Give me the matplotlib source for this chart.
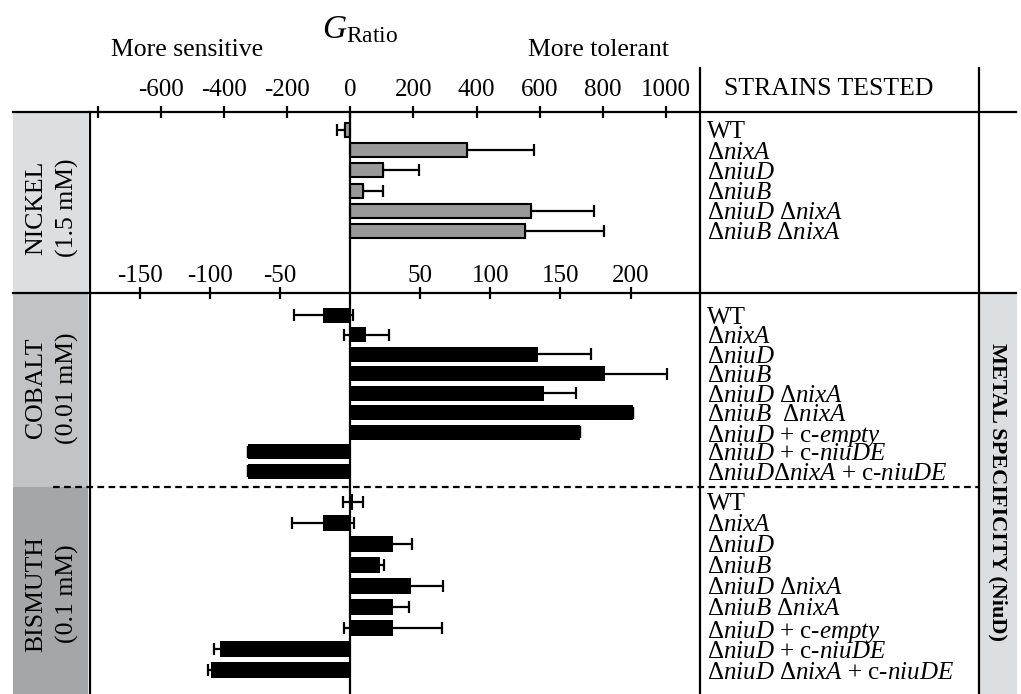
import matplotlib

matplotlib.use('Agg')
import matplotlib.pyplot as plt
from matplotlib.patches import Rectangle

plt.rcParams['font.family'] = ['Liberation Serif', 'DejaVu Serif']
plt.rcParams['mathtext.fontset'] = 'custom'
plt.rcParams['mathtext.rm'] = 'Liberation Serif'
plt.rcParams['mathtext.it'] = 'Liberation Serif:italic'
plt.rcParams['mathtext.bf'] = 'Liberation Serif:bold'

# ニッケル（上段、灰色のバー）
ni_strains = ['WT', r'Δ$\mathit{nixA}$', r'Δ$\mathit{niuD}$', r'Δ$\mathit{niuB}$',
              r'Δ$\mathit{niuD}$ Δ$\mathit{nixA}$', r'Δ$\mathit{niuB}$ Δ$\mathit{nixA}$']
ni_values = [-16, 371, 105, 41, 571, 552]
ni_err = [25, 210, 111, 61, 200, 251]

# コバルト
co_strains = ['WT', r'Δ$\mathit{nixA}$', r'Δ$\mathit{niuD}$', r'Δ$\mathit{niuB}$',
              r'Δ$\mathit{niuD}$ Δ$\mathit{nixA}$', r'Δ$\mathit{niuB}$  Δ$\mathit{nixA}$',
              r'Δ$\mathit{niuD}$ + c-$\mathit{empty}$', r'Δ$\mathit{niuD}$ + c-$\mathit{niuDE}$',
              r'Δ$\mathit{niuD}$Δ$\mathit{nixA}$ + c-$\mathit{niuDE}$']
co_values = [-19, 11.5, 134, 182, 138, 202, 164, -72.5, -72.5]
co_err = [21, 16, 38, 44, 23, 0, 0, 0, 0]

# ビスマス
bi_strains = ['WT', r'Δ$\mathit{nixA}$', r'Δ$\mathit{niuD}$', r'Δ$\mathit{niuB}$',
              r'Δ$\mathit{niuD}$ Δ$\mathit{nixA}$', r'Δ$\mathit{niuB}$ Δ$\mathit{nixA}$',
              r'Δ$\mathit{niuD}$ + c-$\mathit{empty}$', r'Δ$\mathit{niuD}$ + c-$\mathit{niuDE}$',
              r'Δ$\mathit{niuD}$ Δ$\mathit{nixA}$ + c-$\mathit{niuDE}$']
bi_values = [2, -19, 30.5, 21.5, 43.5, 30.5, 30.5, -92.5, -99]
bi_err = [7, 22, 13.5, 3, 23, 11.5, 35, 4.5, 2.5]

# 軸の目盛り
top_ticks = [-800, -600, -400, -200, 0, 200, 400, 600, 800, 1000]
top_labels = ['', '-600', '-400', '-200', '0', '200', '400', '600', '800', '1000']
low_ticks = [-150, -100, -50, 50, 100, 150, 200]
low_labels = ['-150', '-100', '-50', '50', '100', '150', '200']

W, H = 1021, 694
fig = plt.figure(figsize=(W / 100, H / 100), dpi=100)

# 枠線・背景用の Axes（ピクセル座標）
deco = fig.add_axes([0, 0, 1, 1], zorder=0)
deco.set_xlim(0, W)
deco.set_ylim(H, 0)
deco.axis('off')

deco.add_patch(Rectangle((13, 112), 75, 181, color='#dcdfe2', lw=0))
deco.add_patch(Rectangle((13, 293), 75, 194, color='#c1c3c6', lw=0))
deco.add_patch(Rectangle((13, 487), 75, 207, color='#a4a6a9', lw=0))
deco.add_patch(Rectangle((980, 293), 37, 401, color='#dcdfe2', lw=0))

lw = 1.6
deco.plot([13, 1016], [112, 112], color='k', lw=lw)
deco.plot([13, 1016], [293, 293], color='k', lw=lw)
deco.plot([90, 90], [112, 694], color='k', lw=lw)
deco.plot([700, 700], [68, 694], color='k', lw=lw)
deco.plot([979, 979], [68, 694], color='k', lw=lw)
deco.plot([53, 979], [487, 487], color='k', lw=lw, dashes=(3, 2))

deco.text(360, 30, r'$G_{\mathrm{Ratio}}$', fontsize=24, ha='center', va='center')
deco.text(187, 50, 'More sensitive', fontsize=18.5, ha='center', va='center')
deco.text(598, 50, 'More tolerant', fontsize=18.5, ha='center', va='center')
deco.text(829, 89, 'STRAINS TESTED', fontsize=18.5, ha='center', va='center')
deco.text(52, 208, 'NICKEL\n(1.5 mM)', fontsize=18.5, rotation=90, ha='center', va='center', linespacing=1.5)
deco.text(52, 388, 'COBALT\n(0.01 mM)', fontsize=18.5, rotation=90, ha='center', va='center', linespacing=1.5)
deco.text(52, 594, 'BISMUTH\n(0.1 mM)', fontsize=18.5, rotation=90, ha='center', va='center', linespacing=1.5)
deco.text(998, 492, 'METAL SPECIFICITY (NiuD)', fontsize=16, fontweight='bold', rotation=-90,
          ha='center', va='center')


def px_axes(x0, y0, x1, y1):
    a = fig.add_axes([x0 / W, 1 - y1 / H, (x1 - x0) / W, (y1 - y0) / H], zorder=1)
    a.set_facecolor('none')
    for s in a.spines.values():
        s.set_visible(False)
    return a


def strain_labels(a, labels):
    a.yaxis.tick_right()
    a.set_yticks(range(len(labels)))
    a.set_yticklabels(labels)
    a.tick_params(axis='y', length=0, pad=5, labelsize=18)


# ニッケル
ax_ni = px_axes(90, 112, 700, 293)
ax_ni.set_xlim(-825, 1108)
ax_ni.set_ylim(8.07, -0.89)
ni_lo = [e if v < 0 else 0 for v, e in zip(ni_values, ni_err)]
ni_hi = [e if v >= 0 else 0 for v, e in zip(ni_values, ni_err)]
ax_ni.errorbar(ni_values, range(len(ni_values)), xerr=[ni_lo, ni_hi], fmt='none',
               ecolor='k', elinewidth=1.6, capsize=4, capthick=1.6, zorder=2)
ax_ni.barh(range(len(ni_values)), ni_values, height=0.7, color='#999999', edgecolor='k',
           linewidth=1.5, zorder=3)
ax_ni.axvline(0, color='k', lw=lw, zorder=4)
ax_ni.xaxis.tick_top()
ax_ni.set_xticks(top_ticks)
ax_ni.set_xticklabels(top_labels)
ax_ni.tick_params(axis='x', direction='inout', length=8, width=1.6, labelsize=18, pad=4)
strain_labels(ax_ni, ni_strains)

# コバルト
ax_co = px_axes(90, 293, 700, 487)
ax_co.set_xlim(-185.3, 249.5)
ax_co.set_ylim(8.82, -1.13)
ax_co.barh(range(len(co_values)), co_values, height=0.77, color='k', zorder=3)
ax_co.errorbar(co_values, range(len(co_values)), xerr=co_err, fmt='none',
               ecolor='k', elinewidth=1.6, capsize=4, capthick=1.6, zorder=3)
ax_co.axvline(0, color='k', lw=lw, zorder=4)
ax_co.xaxis.tick_top()
ax_co.set_xticks(low_ticks)
ax_co.set_xticklabels(low_labels)
ax_co.tick_params(axis='x', direction='inout', length=8, width=1.6, labelsize=18, pad=0)
strain_labels(ax_co, co_strains)

# ビスマス
ax_bi = px_axes(90, 487, 700, 694)
ax_bi.set_xlim(-185.3, 249.5)
ax_bi.set_ylim(9.14, -0.71)
ax_bi.barh(range(len(bi_values)), bi_values, height=0.75, color='k', zorder=3)
ax_bi.errorbar(bi_values, range(len(bi_values)), xerr=bi_err, fmt='none',
               ecolor='k', elinewidth=1.6, capsize=4, capthick=1.6, zorder=3)
ax_bi.axvline(0, color='k', lw=lw, zorder=4)
ax_bi.tick_params(axis='x', bottom=False, labelbottom=False)
strain_labels(ax_bi, bi_strains)

plt.savefig('out.png', dpi=100)
